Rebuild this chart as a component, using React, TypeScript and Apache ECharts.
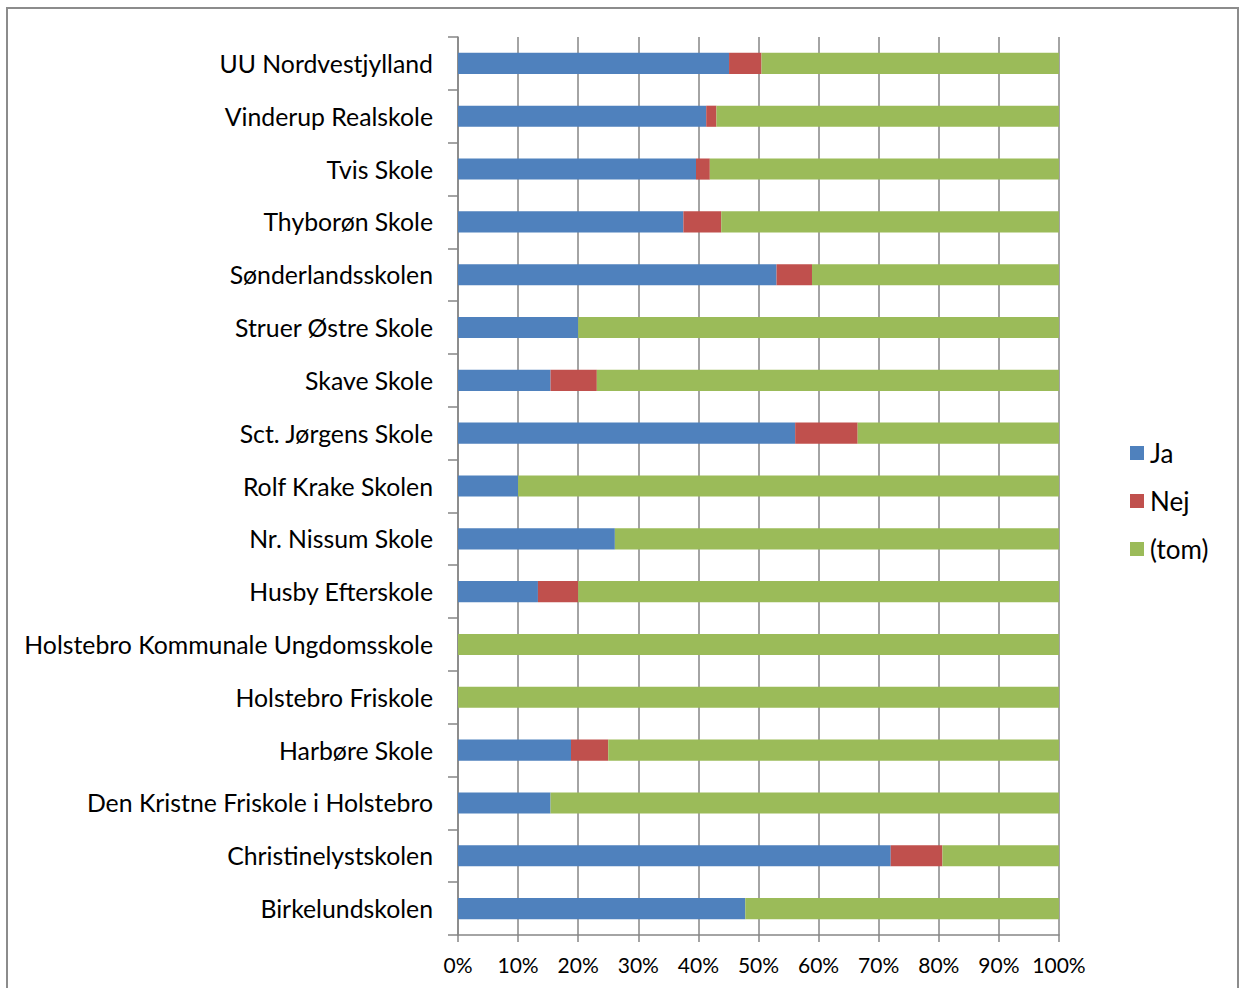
import React, { useEffect, useRef } from "react";
import * as echarts from "echarts";

const categories = [
  "UU Nordvestjylland",
  "Vinderup Realskole",
  "Tvis Skole",
  "Thyborøn Skole",
  "Sønderlandsskolen",
  "Struer Østre Skole",
  "Skave Skole",
  "Sct. Jørgens Skole",
  "Rolf Krake Skolen",
  "Nr. Nissum Skole",
  "Husby Efterskole",
  "Holstebro Kommunale Ungdomsskole",
  "Holstebro Friskole",
  "Harbøre Skole",
  "Den Kristne Friskole i Holstebro",
  "Christinelystskolen",
  "Birkelundskolen",
];

const ja = [45.1, 41.3, 39.6, 37.5, 53.0, 20.0, 15.4, 56.1, 10.0, 26.1, 13.3, 0, 0, 18.8, 15.4, 72.0, 47.8];
const nej = [5.4, 1.7, 2.3, 6.3, 5.9, 0, 7.7, 10.4, 0, 0, 6.7, 0, 0, 6.2, 0, 8.6, 0];
const tom = [49.5, 57.0, 58.1, 56.2, 41.1, 80.0, 76.9, 33.5, 90.0, 73.9, 80.0, 100, 100, 75.0, 84.6, 19.4, 52.2];

const seriesNames = ["Ja", "Nej", "(tom)"];
const colors = ["#4F81BD", "#C0504D", "#9BBB59"];

const FONT = "Lato, 'Open Sans', sans-serif";

export default function App() {
  const ref = useRef<HTMLDivElement>(null);
  useEffect(() => {
    if (!ref.current) return;
    const chart = echarts.init(ref.current, undefined, { renderer: "svg" });
    const values = [ja, nej, tom];
    chart.setOption({
      animation: false,
      backgroundColor: "#ffffff",
      textStyle: { fontFamily: FONT },
      grid: { left: 458, right: 181, top: 37, bottom: 53 },
      legend: {
        orient: "vertical",
        left: 1130,
        top: 440,
        padding: 0,
        itemWidth: 14,
        itemHeight: 14,
        itemGap: 22,
        icon: "rect",
        textStyle: { fontSize: 26, color: "#000", fontFamily: FONT, padding: [0, 0, 0, 1] },
        data: seriesNames,
      },
      xAxis: {
        type: "value",
        min: 0,
        max: 100,
        interval: 10,
        axisLine: { show: true, lineStyle: { color: "#868686", width: 1.5 } },
        axisTick: { show: true, length: 7, lineStyle: { color: "#868686", width: 1.5 } },
        splitLine: { show: true, lineStyle: { color: "#868686", width: 1.5 } },
        axisLabel: {
          formatter: "{value}%",
          fontSize: 21,
          color: "#000",
          margin: 19,
          fontFamily: FONT,
        },
      },
      yAxis: {
        type: "category",
        inverse: true,
        data: categories,
        axisLine: { show: true, lineStyle: { color: "#868686", width: 1.5 } },
        axisTick: { show: true, length: 10, lineStyle: { color: "#868686", width: 1.5 } },
        axisLabel: { fontSize: 24.8, color: "#000", margin: 25, fontFamily: FONT },
      },
      graphic: [
        {
          type: "rect",
          shape: { x: 7, y: 8, width: 1231, height: 995 },
          style: { fill: "none", stroke: "#8c8c8c", lineWidth: 2 },
          silent: true,
        },
      ],
      series: seriesNames.map((name, i) => ({
        name,
        type: "bar",
        stack: "total",
        barWidth: "40%",
        data: values[i],
        itemStyle: { color: colors[i] },
      })),
    });
    return () => chart.dispose();
  }, []);
  return (
    <div
      ref={ref}
      style={{ position: "fixed", left: 0, top: 0, width: 1240, height: 988, background: "#fff" }}
    />
  );
}
